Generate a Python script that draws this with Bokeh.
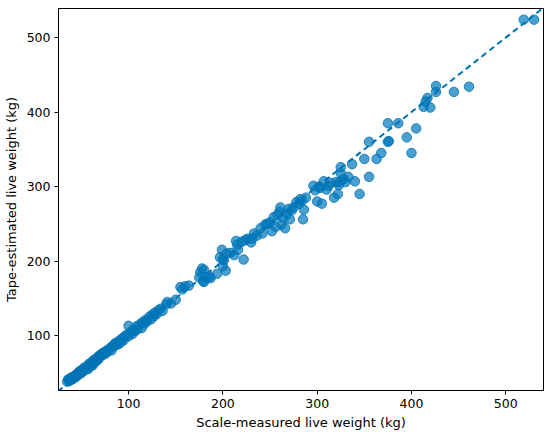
from bokeh.plotting import figure
from bokeh.models import Range1d, FixedTicker, ColumnDataSource
from bokeh.embed import file_html
from bokeh.resources import INLINE

scale_kg = [35,36,37,38,38,39,40,40,41,42,42,43,44,44,45,46,46,47,48,48,49,50,50,51,52,53,53,54,55,56,57,58,58,59,60,61,62,62,63,64,65,66,67,68,68,69,70,71,72,73,74,75,76,77,78,80,81,82,84,85,86,88,89,90,92,93,95,96,98,100,100,102,104,105,107,108,110,112,114,115,117,118,120,122,124,125,127,128,130,132,134,136,140,141,145,150,155,157,160,164,
            175,176,178,179,180,180,183,186,187,194,197,199,200,200,201,203,204,208,212,215,216,214,220,222,224,226,230,231,233,236,240,242,245,247,250,252,254,256,258,260,261,262,264,266,268,270,271,273,275,278,281,282,284,285,286,288,296,298,300,302,303,305,307,310,312,314,318,320,322,323,324,325,325,328,330,333,337,340,345,350,355,355,363,368,375,376,375,386,395,400,405,413,415,417,420,426,426,445,461,519,530]
tape_kg = [38,41,39,42,40,43,41,44,42,45,43,46,44,47,46,49,47,50,48,52,51,53,50,54,52,55,57,54,56,58,55,60,62,58,63,61,65,60,67,64,68,66,70,72,68,71,74,73,76,74,77,78,76,80,79,82,84,80,87,86,90,89,88,93,91,96,94,99,101,99,113,104,102,108,106,112,109,115,110,118,116,121,119,125,122,128,126,131,129,134,136,133,142,145,143,148,165,162,166,167,
           178,185,190,173,172,188,178,179,177,183,205,215,202,193,201,187,210,211,208,222,215,227,226,202,228,230,225,230,237,234,244,237,249,250,252,240,259,246,262,266,272,249,258,244,263,270,256,268,272,279,277,283,281,256,269,285,301,295,280,300,298,277,307,296,301,305,285,306,290,302,306,318,326,310,306,313,330,307,290,337,313,360,337,345,360,361,385,385,366,345,378,407,414,419,406,427,435,427,434,524,524]
line_kg = [0, 600]
x_ticks = [100, 200, 300, 400, 500]
y_ticks = [100, 200, 300, 400, 500]

font = "DejaVu Sans"
p = figure(width=550, height=436, output_backend="svg", toolbar_location=None,
           x_range=Range1d(25.7, 540), y_range=Range1d(26.2, 539),
           min_border_left=58, min_border_right=7, min_border_top=8, min_border_bottom=46)

p.line(line_kg, line_kg, line_color="#0072B2", line_width=2, line_dash="6 4")
src = ColumnDataSource(dict(x=scale_kg, y=tape_kg))
p.scatter("x", "y", source=src, size=9.5, fill_color="#0077BB", fill_alpha=0.7,
          line_color="#0072B2", line_alpha=0.8, line_width=1)

p.grid.visible = False
p.outline_line_color = "black"
p.outline_line_width = 1
for ax, t in ((p.xaxis, x_ticks), (p.yaxis, y_ticks)):
    ax.ticker = FixedTicker(ticks=t)
    ax.minor_tick_line_color = None
    ax.major_tick_out = 4
    ax.major_tick_in = 0
    ax.axis_line_color = "black"
    ax.major_tick_line_color = "black"
    ax.major_label_text_font = font
    ax.major_label_text_font_size = "12.5px"
    ax.major_label_text_color = "black"
    ax.major_label_standoff = 4
    ax.axis_label_text_font = font
    ax.axis_label_text_font_size = "13px"
    ax.axis_label_text_font_style = "normal"
    ax.axis_label_text_color = "black"
p.xaxis.axis_label = "Scale-measured live weight (kg)"
p.yaxis.axis_label = "Tape-estimated live weight (kg)"
p.xaxis.axis_label_standoff = 4
p.yaxis.axis_label_standoff = 5

open("out.html", "w").write(file_html(p, INLINE))
